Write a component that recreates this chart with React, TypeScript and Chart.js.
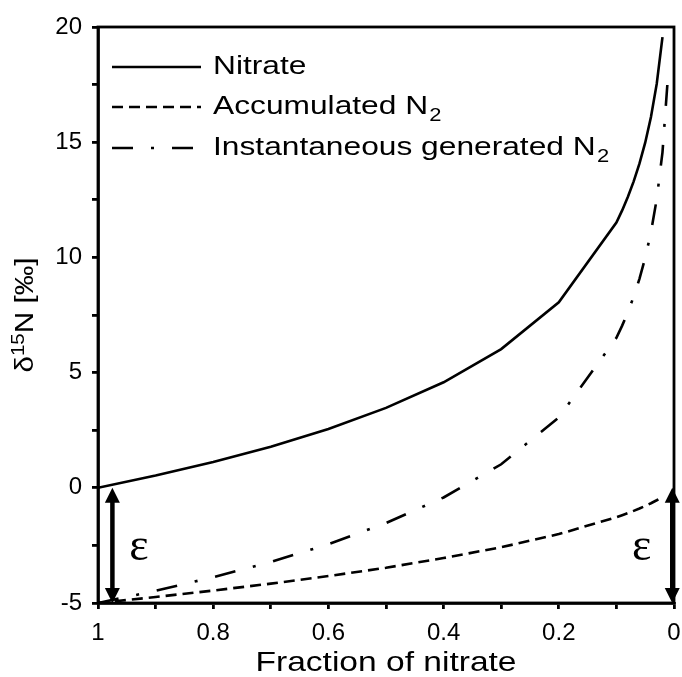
import React, { useEffect, useRef } from "react";
import { Chart, registerables } from "chart.js";

Chart.register(...registerables);

// Fraction of nitrate remaining (x)
const fraction = [1, 0.9, 0.8, 0.7, 0.6, 0.5, 0.4, 0.3, 0.2, 0.1, 0.09, 0.08, 0.07, 0.06, 0.05, 0.04, 0.03, 0.02];
const instFraction = [1, 0.9, 0.8, 0.7, 0.6, 0.5, 0.4, 0.3, 0.2, 0.1, 0.09, 0.08, 0.07, 0.06, 0.05, 0.04, 0.03, 0.02, 0.01];

// δ15N values (‰)
const nitrate = [0, 0.53, 1.12, 1.78, 2.55, 3.47, 4.58, 6.02, 8.05, 11.51, 12.04, 12.63, 13.3, 14.07, 14.98, 16.09, 17.53, 19.56];
const accumulated = [-5, -4.74, -4.46, -4.16, -3.83, -3.47, -3.05, -2.58, -2.01, -1.28, -1.19, -1.1, -1.0, -0.9, -0.79, -0.67, -0.54, -0.4];
const instantaneous = [-5, -4.47, -3.88, -3.22, -2.45, -1.53, -0.42, 1.02, 3.05, 6.51, 7.04, 7.63, 8.3, 9.07, 9.98, 11.09, 12.53, 14.56, 18.03];

const seriesNames = ["Nitrate", "Accumulated N", "Instantaneous generated N"];
const seriesSubscripts = ["", "2", "2"];

const xTickValues = [1, 0.8, 0.6, 0.4, 0.2, 0];
const xTickLabels = ["1", "0.8", "0.6", "0.4", "0.2", "0"];
const yTickValues = [-5, 0, 5, 10, 15, 20];
const yTickLabels = ["-5", "0", "5", "10", "15", "20"];

// ε arrows (x position in fraction, from δ top to δ bottom)
const epsArrowX = [0.975, 0.003];
const epsTop = 0;
const epsBottom = -5;
const epsLabelX = [0.929, 0.056];
const epsLabelY = -2.8;

const FONT = "'Liberation Sans', Arial, sans-serif";
const STRETCH = 1.22;

const decorPlugin = {
  id: "decor",
  afterDraw(chart: any) {
    const ctx = chart.ctx as CanvasRenderingContext2D;
    const area = chart.chartArea;
    const xs = chart.scales.x;
    const ys = chart.scales.y;
    ctx.save();
    // box
    ctx.strokeStyle = "#000";
    ctx.lineWidth = 2.8;
    ctx.setLineDash([]);
    ctx.strokeRect(area.left, area.top, area.right - area.left, area.bottom - area.top);

    // legend
    const lx0 = 112, lx1 = 201, tx = 213;
    const rows = [67, 107, 148];
    chart.data.datasets.forEach((ds: any, i: number) => {
      const y = rows[i];
      ctx.save();
      ctx.strokeStyle = "#000";
      ctx.lineWidth = 2.6;
      ctx.setLineDash(ds.borderDash || []);
      ctx.beginPath();
      ctx.moveTo(lx0, y);
      ctx.lineTo(lx1, y);
      ctx.stroke();
      ctx.restore();
      ctx.save();
      ctx.translate(tx, y);
      ctx.scale(STRETCH, 1);
      ctx.fillStyle = "#000";
      ctx.font = `26px ${FONT}`;
      ctx.textBaseline = "middle";
      ctx.textAlign = "left";
      const name = seriesNames[i];
      ctx.fillText(name, 0, 0);
      if (seriesSubscripts[i]) {
        const w = ctx.measureText(name).width;
        ctx.font = `18px ${FONT}`;
        ctx.fillText(seriesSubscripts[i], w + 1, 9);
      }
      ctx.restore();
    });

    // ε arrows
    epsArrowX.forEach((fx) => {
      const px = xs.getPixelForValue(fx);
      const pt = ys.getPixelForValue(epsTop);
      const pb = ys.getPixelForValue(epsBottom);
      const hh = 15, hw = 7.5;
      ctx.fillStyle = "#000";
      ctx.strokeStyle = "#000";
      ctx.lineWidth = 4.5;
      ctx.setLineDash([]);
      ctx.beginPath();
      ctx.moveTo(px, pt + hh - 1);
      ctx.lineTo(px, pb - hh + 1);
      ctx.stroke();
      ctx.beginPath();
      ctx.moveTo(px, pt);
      ctx.lineTo(px - hw, pt + hh);
      ctx.lineTo(px + hw, pt + hh);
      ctx.closePath();
      ctx.fill();
      ctx.beginPath();
      ctx.moveTo(px, pb);
      ctx.lineTo(px - hw, pb - hh);
      ctx.lineTo(px + hw, pb - hh);
      ctx.closePath();
      ctx.fill();
    });
    ctx.font = "46px 'Liberation Serif', 'DejaVu Serif', serif";
    ctx.textAlign = "center";
    ctx.textBaseline = "middle";
    epsLabelX.forEach((fx) => {
      ctx.fillText("ε", xs.getPixelForValue(fx), ys.getPixelForValue(epsLabelY) - 4);
    });

    // x title
    ctx.save();
    ctx.translate((area.left + area.right) / 2, 663);
    ctx.scale(STRETCH, 1);
    ctx.font = `27.5px ${FONT}`;
    ctx.textAlign = "center";
    ctx.textBaseline = "middle";
    ctx.fillText("Fraction of nitrate", 0, 0);
    ctx.restore();

    // y title (rotated, with superscript)
    ctx.save();
    ctx.translate(24, (area.top + area.bottom) / 2);
    ctx.rotate(-Math.PI / 2);
    ctx.scale(1.14, 1);
    const p1 = "δ";
    const p2 = "15";
    const p3 = "N [‰]";
    ctx.font = `26px ${FONT}`;
    const w1 = ctx.measureText(p1).width;
    const w3 = ctx.measureText(p3).width;
    ctx.font = `18px ${FONT}`;
    const w2 = ctx.measureText(p2).width;
    const total = w1 + w2 + w3;
    let x = -total / 2;
    ctx.textAlign = "left";
    ctx.textBaseline = "alphabetic";
    ctx.font = `26px ${FONT}`;
    ctx.fillText(p1, x, 9);
    x += w1;
    ctx.font = `18px ${FONT}`;
    ctx.fillText(p2, x, 0);
    x += w2;
    ctx.font = `26px ${FONT}`;
    ctx.fillText(p3, x, 9);
    ctx.restore();

    ctx.restore();
  },
};

export default function App() {
  const ref = useRef<HTMLCanvasElement | null>(null);
  useEffect(() => {
    document.body.style.margin = "0";
    const canvas = ref.current!;
    const chart = new Chart(canvas, {
      type: "line",
      data: {
        datasets: [
          {
            label: "Nitrate",
            data: fraction.map((f, i) => ({ x: f, y: nitrate[i] })),
            borderColor: "#000",
            borderWidth: 2.6,
            pointRadius: 0,
            tension: 0,
            borderDash: [],
          },
          {
            label: "Accumulated N2",
            data: fraction.map((f, i) => ({ x: f, y: accumulated[i] })),
            borderColor: "#000",
            borderWidth: 2.6,
            pointRadius: 0,
            tension: 0,
            borderDash: [11, 6],
          },
          {
            label: "Instantaneous generated N2",
            data: instFraction.map((f, i) => ({ x: f, y: instantaneous[i] })),
            borderColor: "#000",
            borderWidth: 2.6,
            pointRadius: 0,
            tension: 0,
            borderDash: [21, 18, 3, 18],
          },
        ],
      },
      options: {
        animation: false,
        responsive: false,
        devicePixelRatio: 1,
        layout: { padding: { left: 0, top: 27, right: 8, bottom: 0 } },
        plugins: { legend: { display: false }, tooltip: { enabled: false } },
        scales: {
          x: {
            type: "linear",
            reverse: true,
            min: 0,
            max: 1,
            afterFit: (s: any) => {
              s.height = 74;
              s.paddingLeft = 0;
              s.paddingRight = 0;
            },
            ticks: {
              stepSize: 0.1,
              autoSkip: false,
              maxRotation: 0,
              padding: 10,
              color: "#000",
              font: { family: FONT, size: 24 },
              callback: (v: any) => {
                const idx = xTickValues.findIndex((t) => Math.abs(t - Number(v)) < 1e-6);
                return idx >= 0 ? xTickLabels[idx] : "";
              },
            },
            grid: { drawOnChartArea: false, drawTicks: true, tickLength: 6, color: "#000", lineWidth: 2.8 },
            border: { display: true, color: "#000", width: 2.8 },
          },
          y: {
            type: "linear",
            min: -5,
            max: 20,
            afterFit: (s: any) => {
              s.width = 98;
              s.paddingTop = 0;
              s.paddingBottom = 0;
            },
            ticks: {
              stepSize: 2.5,
              autoSkip: false,
              padding: 10,
              color: "#000",
              font: { family: FONT, size: 24 },
              callback: (v: any) => {
                const idx = yTickValues.findIndex((t) => Math.abs(t - Number(v)) < 1e-6);
                return idx >= 0 ? yTickLabels[idx] : "";
              },
            },
            grid: { drawOnChartArea: false, drawTicks: true, tickLength: 6, color: "#000", lineWidth: 2.8 },
            border: { display: true, color: "#000", width: 2.8 },
          },
        },
      },
      plugins: [decorPlugin],
    } as any);
    return () => chart.destroy();
  }, []);
  return (
    <div style={{ width: 682, height: 677, background: "#fff" }}>
      <canvas ref={ref} width={682} height={677} style={{ display: "block" }} />
    </div>
  );
}
